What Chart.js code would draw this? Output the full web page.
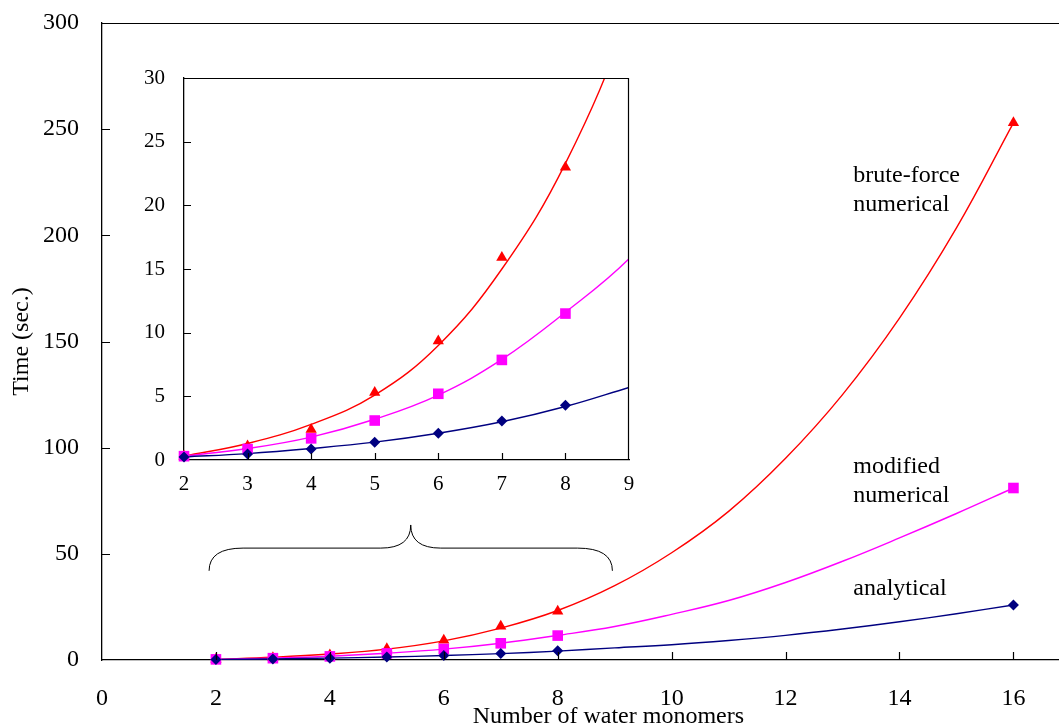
<!DOCTYPE html>
<html>
<head>
<meta charset="utf-8">
<script src="https://cdn.jsdelivr.net/npm/chart.js@4.4.0/dist/chart.umd.min.js"></script>
<style>
  html, body { margin: 0; padding: 0; background: #fff; overflow: hidden; }
  #wrap { position: relative; width: 1059px; height: 727px; }
  #mainChart { position: absolute; left: 0; top: 0; }
  #insetChart { position: absolute; left: 130px; top: 60px; }
</style>
</head>
<body>
<div id="wrap">
  <canvas id="mainChart" width="1059" height="727"></canvas>
  <canvas id="insetChart" width="540" height="480"></canvas>
</div>
<script>
// measured timings
const nMonomers = [2, 3, 4, 5, 6, 7, 8, 16];
const analytical = [0.24, 0.47, 0.86, 1.4, 2.1, 3.06, 4.3, 25.9];
const modifiedNumerical = [0.3, 0.86, 1.7, 3.1, 5.2, 7.86, 11.5, 81];
const bruteForce = [0.3, 1.1, 2.4, 5.3, 9.35, 15.9, 23, 253];

// fitted trend curves
const trendX = [2, 3, 4, 5, 6, 7, 8, 9, 10, 11, 12, 13, 14, 15, 16];
const trendAnalytical = [0.24, 0.5, 0.9, 1.4, 2.1, 3.0, 4.2, 5.7, 7.2, 9.2, 11.6, 14.6, 18, 21.8, 25.9];
const trendModified = [0.3, 0.9, 1.8, 3.2, 5.1, 7.9, 11.6, 15.8, 21.5, 28, 36.5, 46.5, 57.5, 69, 81];
const trendBrute = [0.3, 1.3, 2.8, 5.1, 9.0, 15.0, 23.3, 35, 50.5, 70, 95, 125, 161, 203.5, 253];

// tick labels
const xTicks = [0, 2, 4, 6, 8, 10, 12, 14, 16];
const yTicks = [0, 50, 100, 150, 200, 250, 300];
const insetXTicks = [2, 3, 4, 5, 6, 7, 8, 9];
const insetYTicks = [0, 5, 10, 15, 20, 25, 30];

const seriesLabels = [['analytical'], ['modified', 'numerical'], ['brute-force', 'numerical']];

const FONT = '"Liberation Serif", "Times New Roman", serif';
const NAVY = '#000080', MAGENTA = '#FF00FF', RED = '#FF0000';

function pts(xs, ys, maxX) {
  return xs.map((x, i) => ({ x: x, y: ys[i] })).filter(p => p.x <= maxX);
}

function buildDatasets(maxX) {
  const curve = (ys, color) => ({
    data: pts(trendX, ys, 99),
    borderColor: color, borderWidth: 1.4, pointRadius: 0,
    tension: 0.4, fill: false, order: 2
  });
  const marks = (ys, color, style, r) => ({
    data: pts(nMonomers, ys, maxX),
    showLine: false, pointStyle: style, pointRadius: r,
    pointBackgroundColor: color, pointBorderColor: color, pointBorderWidth: 0,
    clip: false, order: 1
  });
  return [
    marks(analytical, NAVY, 'rectRot', 5.5),
    marks(modifiedNumerical, MAGENTA, 'rect', 7.5),
    marks(bruteForce, RED, 'triangle', 6.5),
    curve(trendAnalytical, NAVY),
    curve(trendModified, MAGENTA),
    curve(trendBrute, RED)
  ];
}

function fixSize(w, h) {
  return function (scale) {
    if (w !== null) scale.width = w;
    if (h !== null) scale.height = h;
    scale.paddingLeft = 0; scale.paddingRight = 0;
    scale.paddingTop = 0; scale.paddingBottom = 0;
  };
}
function setTicks(values) {
  return function (scale) { scale.ticks = values.map(v => ({ value: v })); };
}

function inwardTicks(ctx, chart, xs, ys, len) {
  const { chartArea: a, scales: { x, y } } = chart;
  ctx.beginPath();
  xs.forEach(v => {
    const px = Math.round(x.getPixelForValue(v)) + 0.5;
    if (px > a.left + 2 && px < a.right - 2) { ctx.moveTo(px, a.bottom); ctx.lineTo(px, a.bottom - len); }
  });
  ys.forEach(v => {
    const py = Math.round(y.getPixelForValue(v)) + 0.5;
    if (py > a.top + 2 && py < a.bottom - 2) { ctx.moveTo(a.left, py); ctx.lineTo(a.left + len, py); }
  });
  ctx.stroke();
}

const mainDecor = {
  id: 'mainDecor',
  afterDraw(chart) {
    const { ctx, chartArea: a, scales: { x, y } } = chart;
    ctx.save();
    ctx.strokeStyle = '#000';
    ctx.lineWidth = 1.2;
    // top frame line
    ctx.beginPath();
    ctx.moveTo(a.left, a.top + 0.5); ctx.lineTo(a.right, a.top + 0.5);
    ctx.stroke();
    inwardTicks(ctx, chart, xTicks, yTicks, 8);

    // brace marking the range shown in the inset
    const xl = x.getPixelForValue(1.88), xr = x.getPixelForValue(8.96), xm = x.getPixelForValue(5.42);
    const yb = y.getPixelForValue(42), ym = y.getPixelForValue(52.7), yt = y.getPixelForValue(63.6);
    ctx.lineWidth = 1;
    ctx.beginPath();
    ctx.moveTo(xl, yb);
    ctx.quadraticCurveTo(xl, ym, xl + 34, ym);
    ctx.lineTo(xm - 30, ym);
    ctx.quadraticCurveTo(xm, ym, xm, yt);
    ctx.quadraticCurveTo(xm, ym, xm + 30, ym);
    ctx.lineTo(xr - 35, ym);
    ctx.quadraticCurveTo(xr, ym, xr, yb);
    ctx.stroke();

    // series labels
    ctx.fillStyle = '#000';
    ctx.font = '24px ' + FONT;
    ctx.textAlign = 'left';
    ctx.textBaseline = 'alphabetic';
    const labelY = [30.6, 88.1, 225.3];
    seriesLabels.forEach((lines, i) => {
      const px = x.getPixelForValue(13.19);
      const py = y.getPixelForValue(labelY[i]);
      lines.forEach((t, k) => ctx.fillText(t, px, py + k * 29));
    });

    // x axis title
    ctx.textAlign = 'center';
    ctx.fillText('Number of water monomers', x.getPixelForValue(8.89), 723);
    ctx.restore();
  }
};

const insetDecor = {
  id: 'insetDecor',
  afterDraw(chart) {
    const { ctx, chartArea: a } = chart;
    ctx.save();
    ctx.strokeStyle = '#000';
    ctx.lineWidth = 1.2;
    ctx.beginPath();
    ctx.moveTo(a.left, a.top + 0.5); ctx.lineTo(a.right - 0.5, a.top + 0.5); ctx.lineTo(a.right - 0.5, a.bottom);
    ctx.stroke();
    inwardTicks(ctx, chart, insetXTicks, insetYTicks, 7);
    ctx.restore();
  }
};

new Chart(document.getElementById('mainChart'), {
  type: 'line',
  data: { datasets: buildDatasets(99) },
  plugins: [mainDecor],
  options: {
    responsive: false,
    animation: false,
    events: [],
    layout: { autoPadding: false, padding: { top: 23, right: 0, left: 0, bottom: 0 } },
    plugins: { legend: { display: false }, tooltip: { enabled: false } },
    scales: {
      x: {
        type: 'linear', min: 0, max: 16.8,
        grid: { display: false, drawTicks: false },
        border: { display: true, color: '#000', width: 1.3 },
        ticks: { color: '#000', font: { family: FONT, size: 24 }, padding: 24, maxRotation: 0 },
        afterBuildTicks: setTicks(xTicks),
        afterFit: fixSize(null, 67)
      },
      y: {
        type: 'linear', min: 0, max: 300,
        grid: { display: false, drawTicks: false },
        border: { display: true, color: '#000', width: 1.3 },
        ticks: { color: '#000', font: { family: FONT, size: 24 }, padding: 23 },
        afterBuildTicks: setTicks(yTicks),
        afterFit: fixSize(102, null),
        title: {
          display: true, text: 'Time (sec.)', color: '#000',
          font: { family: FONT, size: 24, lineHeight: 1 },
          padding: { top: 10, bottom: 0 }
        }
      }
    }
  }
});

new Chart(document.getElementById('insetChart'), {
  type: 'line',
  data: { datasets: buildDatasets(9) },
  plugins: [insetDecor],
  options: {
    responsive: false,
    animation: false,
    events: [],
    layout: { autoPadding: false, padding: { top: 18, right: 41, left: 0, bottom: 0 } },
    plugins: { legend: { display: false }, tooltip: { enabled: false } },
    scales: {
      x: {
        type: 'linear', min: 2, max: 9,
        grid: { display: false, drawTicks: false },
        border: { display: true, color: '#000', width: 1.3 },
        ticks: { color: '#000', font: { family: FONT, size: 21 }, padding: 12, maxRotation: 0 },
        afterBuildTicks: setTicks(insetXTicks),
        afterFit: fixSize(null, 80)
      },
      y: {
        type: 'linear', min: 0, max: 30,
        grid: { display: false, drawTicks: false },
        border: { display: true, color: '#000', width: 1.3 },
        ticks: { color: '#000', font: { family: FONT, size: 21 }, padding: 19 },
        afterBuildTicks: setTicks(insetYTicks),
        afterFit: fixSize(54, null)
      }
    }
  }
});
</script>
</body>
</html>
